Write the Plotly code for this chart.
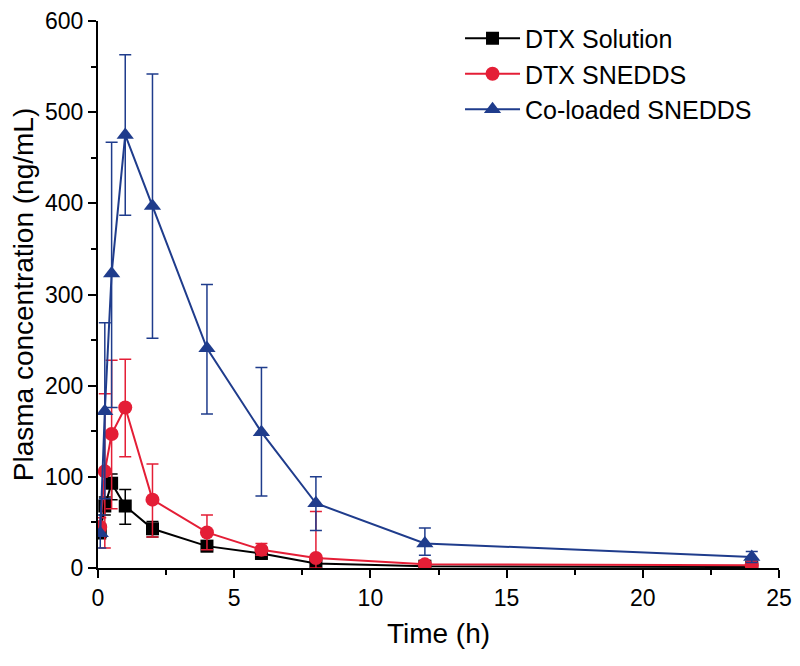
import plotly.graph_objects as go

time_h = [0.083, 0.25, 0.5, 1, 2, 4, 6, 8, 12, 24]

sol_mean = [40, 68, 93, 68, 43, 24, 16, 5, 2, 1]
sol_up = [8, 10, 10, 18, 8, 6, 6, 3, 1, 1]
sol_dn = [8, 10, 18, 20, 9, 6, 6, 3, 1, 1]

sned_mean = [45, 106, 147, 176, 75, 39, 20, 11, 4, 3]
sned_up = [10, 85, 81, 53, 39, 19, 7, 51, 2, 2]
sned_dn = [10, 84, 82, 54, 41, 19, 6, 11, 2, 2]

co_mean = [38, 172, 323, 475, 397, 241, 149, 71, 27, 12]
co_up = [20, 97, 144, 88, 145, 70, 71, 29, 17, 6]
co_dn = [16, 96, 147, 88, 145, 72, 70, 30, 13, 6]

names = ["DTX Solution", "DTX SNEDDS", "Co-loaded SNEDDS"]
colors = ["#000000", "#E41E36", "#1F3C8C"]
symbols = ["square", "circle", "triangle-up"]
sizes = [13, 14, 15]

fig = go.Figure()
for name, color, sym, sz, m, up, dn in zip(
    names, colors, symbols, sizes,
    [sol_mean, sned_mean, co_mean],
    [sol_up, sned_up, co_up],
    [sol_dn, sned_dn, co_dn],
):
    fig.add_trace(go.Scatter(
        x=time_h, y=m, name=name, mode="lines+markers",
        line=dict(color=color, width=2),
        marker=dict(symbol=sym, size=sz, color=color),
        error_y=dict(type="data", array=up, arrayminus=dn, symmetric=False,
                     color=color, thickness=1.5, width=6),
    ))

font_family = "Arial, Liberation Sans, sans-serif"
fig.update_layout(
    width=792, height=658,
    paper_bgcolor="white", plot_bgcolor="white",
    margin=dict(l=90, r=21, t=13, b=98, autoexpand=False),
    font=dict(family=font_family, size=23, color="black"),
    showlegend=True,
    legend=dict(x=0.5316, y=1.01, xanchor="left", yanchor="top",
                bgcolor="rgba(0,0,0,0)", font=dict(size=25), tracegroupgap=0,
                itemwidth=55),
    xaxis=dict(
        range=[0, 25], tickvals=[0, 5, 10, 15, 20, 25],
        tickfont=dict(size=23), ticklabeloverflow="allow",
        title=dict(text="Time (h)", font=dict(size=28), standoff=14),
        automargin=False,
        showline=True, linecolor="black", linewidth=2,
        ticks="outside", ticklen=8, tickwidth=2, tickcolor="black",
        showgrid=False, zeroline=False,
        minor=dict(dtick=2.5, tick0=0, ticks="outside", ticklen=5, tickwidth=2, tickcolor="black", showgrid=False),
    ),
    yaxis=dict(
        range=[0, 600], tickvals=[0, 100, 200, 300, 400, 500, 600],
        tickfont=dict(size=23), ticklabeloverflow="allow",
        title=dict(text="Plasma concentration (ng/mL)", font=dict(size=28), standoff=14),
        automargin=False,
        showline=True, linecolor="black", linewidth=2,
        ticks="outside", ticklen=8, tickwidth=2, tickcolor="black",
        showgrid=False, zeroline=False,
        minor=dict(dtick=50, tick0=0, ticks="outside", ticklen=5, tickwidth=2, tickcolor="black", showgrid=False),
    ),
)

fig.write_html("out.html")
